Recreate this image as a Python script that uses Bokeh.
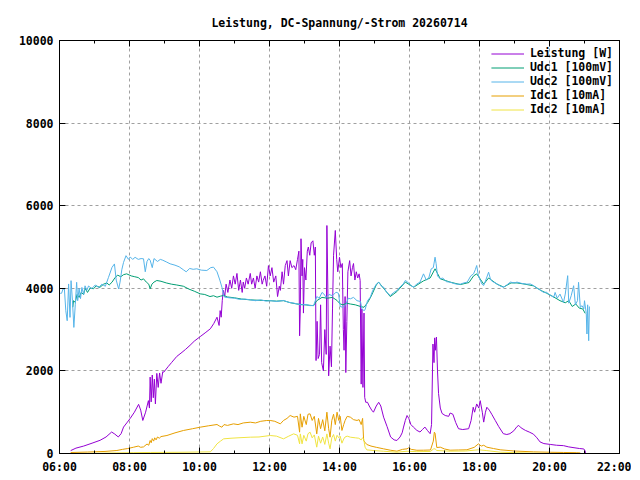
from bokeh.plotting import figure
from bokeh.models import Range1d, FixedTicker, LinearAxis, Legend, LegendItem
from bokeh.embed import file_html
from bokeh.resources import INLINE

TITLE = "Leistung, DC-Spannung/-Strom 20260714"
X_TICKS = [6, 8, 10, 12, 14, 16, 18, 20, 22]
X_MINOR = [7, 9, 11, 13, 15, 17, 19, 21]
X_TICK_LABELS = ["06:00", "08:00", "10:00", "12:00", "14:00", "16:00", "18:00", "20:00", "22:00"]
Y_TICKS = [0, 2000, 4000, 6000, 8000, 10000]
SERIES_NAMES = ["Leistung [W]", "Udc1 [100mV]", "Udc2 [100mV]", "Idc1 [10mA]", "Idc2 [10mA]"]

# (hour of day, value)
LEISTUNG = [
    (6.32, 70), (6.47, 130), (6.69, 180), (6.93, 250), (7.16, 320), (7.33, 400), (7.49, 520),
    (7.58, 470), (7.68, 400), (7.76, 480), (7.83, 640), (7.94, 760), (8.02, 850), (8.14, 1000),
    (8.26, 1190), (8.32, 1050), (8.38, 800), (8.46, 1000), (8.54, 1280), (8.57, 1100), (8.59, 1850),
    (8.62, 1250), (8.65, 1900), (8.68, 1350), (8.71, 1800), (8.74, 1200), (8.78, 1940), (8.82, 1600),
    (8.86, 1950), (8.90, 1700), (8.95, 1980), (8.98, 1970), (9.10, 2100), (9.20, 2200), (9.35, 2350),
    (9.50, 2450), (9.60, 2520), (9.73, 2620), (9.85, 2720), (10.02, 2830), (10.16, 2920), (10.31, 3020),
    (10.41, 3150), (10.50, 3300), (10.56, 3100), (10.59, 3460), (10.62, 3300), (10.65, 3700),
    (10.68, 3950), (10.72, 3800), (10.76, 4100), (10.81, 3900), (10.87, 4200),
    (10.92, 4000), (10.97, 4300), (11.02, 4100), (11.07, 4360), (11.12, 3950), (11.17, 4200),
    (11.22, 3900), (11.25, 4150), (11.29, 4000), (11.34, 4250), (11.39, 4100), (11.45, 4360),
    (11.49, 4100), (11.54, 4250), (11.59, 4000), (11.64, 4300), (11.69, 4150), (11.74, 4400),
    (11.79, 4100), (11.82, 4190), (11.87, 4300), (11.92, 4050), (11.97, 4550), (12.02, 4300),
    (12.07, 4500), (12.12, 4150), (12.18, 4300), (12.23, 3800), (12.28, 4050), (12.31, 3950),
    (12.36, 4400), (12.40, 4100), (12.45, 4550), (12.50, 4670), (12.54, 4300), (12.59, 4670),
    (12.64, 4500), (12.70, 4550), (12.75, 4450), (12.80, 4700), (12.84, 4900), (12.86, 2850),
    (12.88, 3500), (12.90, 5200), (12.93, 4300), (12.95, 4700), (12.97, 3400), (13.00, 4500),
    (13.04, 4200), (13.08, 4900), (13.11, 5000), (13.15, 4800), (13.19, 5100), (13.24, 5150),
    (13.28, 4800), (13.31, 5000), (13.33, 2250), (13.36, 3200), (13.39, 2300), (13.43, 2400),
    (13.46, 3600), (13.49, 2200), (13.54, 2000), (13.58, 3000), (13.62, 2400), (13.64, 5520),
    (13.67, 3800), (13.69, 1880), (13.73, 2600), (13.77, 2100), (13.80, 3500), (13.83, 4800),
    (13.88, 5400), (13.92, 4700), (13.95, 4400), (14.00, 4750), (14.04, 4500), (14.08, 4600),
    (14.11, 3000), (14.13, 2500), (14.16, 3800), (14.18, 1960), (14.21, 3200), (14.24, 4400),
    (14.29, 4670), (14.33, 4300), (14.37, 4500), (14.40, 4600), (14.44, 4200), (14.48, 4400),
    (14.52, 4250), (14.56, 4350), (14.59, 4190), (14.62, 1680), (14.64, 3500), (14.67, 1600),
    (14.70, 3400), (14.72, 1360), (14.75, 1240), (14.80, 1240), (14.85, 1150), (14.92, 1050),
    (14.97, 1000), (15.05, 1150), (15.12, 1240), (15.18, 1150), (15.26, 880), (15.36, 650),
    (15.46, 400), (15.56, 330), (15.64, 315), (15.73, 400), (15.79, 500), (15.83, 640), (15.88, 800),
    (15.93, 920), (15.98, 850), (16.04, 700), (16.11, 640), (16.21, 560), (16.30, 520), (16.37, 580),
    (16.44, 640), (16.51, 560), (16.59, 480), (16.63, 700), (16.67, 2650), (16.70, 2200), (16.72, 2800),
    (16.74, 2500), (16.77, 2820), (16.80, 2000), (16.83, 1450), (16.88, 1100), (16.93, 970),
    (17.02, 920), (17.12, 900), (17.16, 980), (17.24, 950), (17.32, 750), (17.40, 600), (17.52, 580),
    (17.69, 600), (17.76, 800), (17.82, 1120), (17.86, 1000), (17.92, 1200), (17.98, 1100),
    (18.02, 1280), (18.08, 1000), (18.12, 760), (18.17, 1000), (18.21, 1120), (18.28, 1050),
    (18.35, 950), (18.45, 800), (18.55, 650), (18.68, 480), (18.78, 460), (18.87, 480), (18.98, 550),
    (19.07, 650), (19.12, 680), (19.19, 620), (19.31, 560), (19.42, 520), (19.54, 470), (19.64, 380),
    (19.73, 280), (19.84, 240), (20.02, 220), (20.20, 200), (20.40, 190), (20.55, 160), (20.70, 140),
    (20.86, 120), (20.98, 110), (21.02, 60), (21.03, 0),
]

UDC1 = [
    (6.38, 3542), (6.40, 3700), (6.45, 3660), (6.50, 3850), (6.56, 3780), (6.62, 3900), (6.69, 3850),
    (6.73, 4000), (6.80, 3900), (6.88, 4010), (6.97, 3987), (7.05, 4060), (7.15, 4020), (7.26, 4100),
    (7.35, 4130), (7.42, 4080), (7.50, 4148), (7.58, 4250), (7.66, 4320), (7.75, 4280), (7.83, 4330),
    (7.92, 4350), (8.05, 4300), (8.15, 4280), (8.25, 4260), (8.33, 4200), (8.40, 4229), (8.48, 4150),
    (8.55, 4100), (8.59, 3987), (8.64, 4100), (8.70, 4150), (8.78, 4189), (8.90, 4170), (9.05, 4130),
    (9.20, 4100), (9.35, 4080), (9.54, 4050), (9.70, 3980), (9.85, 3930), (10.02, 3866), (10.15, 3850),
    (10.30, 3800), (10.40, 3820), (10.50, 3785), (10.60, 3810), (10.69, 3826), (10.80, 3790),
    (11.00, 3770), (11.20, 3740), (11.45, 3720), (11.70, 3710), (12.00, 3700), (12.20, 3690),
    (12.40, 3700), (12.60, 3650), (12.78, 3620), (13.00, 3600), (13.26, 3580), (13.35, 3700),
    (13.50, 3780), (13.65, 3760), (13.80, 3780), (13.93, 3705), (14.02, 3620), (14.10, 3600),
    (14.20, 3640), (14.31, 3620), (14.45, 3600), (14.60, 3560), (14.70, 3540), (14.80, 3650),
    (14.90, 3800), (15.05, 4080), (15.12, 4148), (15.26, 4000), (15.45, 3800), (15.64, 3920),
    (15.88, 4150), (16.12, 4027), (16.40, 4180), (16.59, 4250), (16.73, 4472), (16.88, 4230),
    (17.16, 4150), (17.45, 4090), (17.70, 4140), (17.83, 4300), (17.92, 4350), (18.12, 4100),
    (18.26, 4250), (18.50, 4100), (18.69, 4030), (18.90, 4130), (19.07, 4130), (19.30, 4100),
    (19.54, 4060), (19.75, 3950), (19.92, 3880), (20.10, 3800), (20.30, 3700), (20.45, 3650),
    (20.55, 3700), (20.65, 3560), (20.75, 3620), (20.85, 3520), (20.95, 3500), (21.02, 3393),
]

UDC2 = [
    (6.02, 3877), (6.06, 3880), (6.10, 3983), (6.14, 3983), (6.18, 3458), (6.22, 3215), (6.26, 4105),
    (6.30, 3296), (6.33, 4185), (6.37, 3700), (6.41, 3053), (6.45, 3600), (6.49, 4145), (6.52, 3700),
    (6.56, 4000), (6.60, 3750), (6.64, 4020), (6.69, 3850), (6.73, 4060), (6.78, 3950), (6.83, 4056),
    (6.92, 3990), (7.02, 4080), (7.12, 4020), (7.21, 4100), (7.31, 4050), (7.40, 4265), (7.50, 4507),
    (7.57, 4590), (7.62, 4200), (7.69, 3983), (7.73, 4150), (7.78, 4450), (7.83, 4628), (7.90, 4790),
    (7.97, 4700), (8.02, 4760), (8.09, 4700), (8.16, 4750), (8.25, 4700), (8.33, 4720), (8.40, 4714),
    (8.45, 4400), (8.50, 4650), (8.55, 4720), (8.59, 4680), (8.65, 4500), (8.70, 4720), (8.80, 4650),
    (8.88, 4700), (8.95, 4680), (9.05, 4640), (9.16, 4593), (9.30, 4560), (9.42, 4520), (9.54, 4448),
    (9.62, 4400), (9.72, 4480), (9.82, 4460), (9.92, 4472), (10.05, 4440), (10.21, 4431),
    (10.32, 4500), (10.40, 4512), (10.50, 4400), (10.58, 4200), (10.64, 4027), (10.70, 3800),
    (10.73, 3785), (10.85, 3770), (11.00, 3760), (11.15, 3730), (11.30, 3740), (11.45, 3720),
    (11.60, 3700), (11.75, 3720), (11.90, 3690), (12.05, 3700), (12.20, 3680), (12.40, 3705),
    (12.55, 3660), (12.70, 3640), (12.78, 3624), (12.90, 3600), (13.05, 3610), (13.15, 3580),
    (13.26, 3583), (13.35, 3800), (13.42, 3760), (13.50, 3900), (13.55, 3866), (13.62, 3780),
    (13.70, 3850), (13.80, 3820), (13.90, 3906), (13.97, 3880), (14.02, 3560), (14.10, 3540),
    (14.18, 3600), (14.25, 3760), (14.31, 3745), (14.40, 3780), (14.50, 3700), (14.60, 3680),
    (14.64, 3500), (14.70, 3460), (14.73, 3480), (14.80, 3700), (14.88, 3785), (14.95, 3950),
    (15.05, 4100), (15.12, 4148), (15.20, 4050), (15.26, 4027), (15.35, 3900), (15.45, 3826),
    (15.55, 3900), (15.64, 3946), (15.75, 4050), (15.82, 4100), (15.88, 4189), (15.95, 4150),
    (16.05, 4060), (16.12, 4027), (16.20, 4100), (16.30, 4150), (16.40, 4350), (16.48, 4200),
    (16.55, 4250), (16.62, 4470), (16.68, 4500), (16.73, 4753), (16.76, 4600), (16.80, 4300),
    (16.88, 4230), (16.95, 4250), (17.05, 4160), (17.16, 4150), (17.25, 4120), (17.35, 4100),
    (17.45, 4100), (17.55, 4130), (17.65, 4150), (17.75, 4300), (17.83, 4350), (17.88, 4450),
    (17.92, 4552), (17.97, 4300), (18.02, 4200), (18.07, 4100), (18.12, 4068), (18.18, 4200),
    (18.26, 4390), (18.32, 4200), (18.40, 4150), (18.50, 4108), (18.60, 4050), (18.69, 4027),
    (18.78, 4080), (18.88, 4150), (19.00, 4130), (19.07, 4150), (19.20, 4120), (19.35, 4100),
    (19.45, 4105), (19.54, 4068), (19.65, 4000), (19.75, 3950), (19.83, 3900), (19.92, 3906),
    (19.97, 3860), (20.05, 3820), (20.12, 3780), (20.16, 3900), (20.22, 3760), (20.30, 3860),
    (20.36, 3740), (20.40, 3660), (20.45, 3860), (20.52, 4306), (20.55, 3640), (20.62, 3820),
    (20.69, 4063), (20.74, 3600), (20.80, 3700), (20.83, 4145), (20.88, 3538), (20.93, 3580),
    (20.98, 3500), (21.00, 3700), (21.05, 3393), (21.07, 2893), (21.09, 3600), (21.12, 2731),
    (21.14, 3560),
]

IDC1 = [
    (6.32, 24), (6.80, 35), (7.30, 50), (7.64, 73), (7.80, 100), (7.95, 120), (8.12, 153), (8.25, 180),
    (8.32, 150), (8.40, 160), (8.50, 230), (8.55, 200), (8.59, 315), (8.62, 260), (8.65, 360),
    (8.69, 300), (8.72, 380), (8.76, 330), (8.80, 400), (8.85, 370), (8.90, 410), (9.07, 436),
    (9.30, 500), (9.54, 557), (9.80, 600), (10.02, 637), (10.25, 670), (10.50, 702), (10.58, 660),
    (10.64, 637), (10.70, 700), (10.80, 680), (10.97, 718), (11.10, 700), (11.25, 740), (11.45, 758),
    (11.60, 740), (11.75, 780), (11.92, 799), (12.02, 800), (12.15, 780), (12.31, 718), (12.40, 800),
    (12.50, 850), (12.59, 920), (12.70, 880), (12.80, 900), (12.86, 516), (12.88, 960), (12.93, 637),
    (12.98, 900), (13.05, 700), (13.10, 950), (13.16, 960), (13.22, 800), (13.28, 900), (13.35, 476),
    (13.40, 850), (13.46, 600), (13.52, 820), (13.58, 550), (13.64, 1000), (13.69, 600), (13.73, 395),
    (13.78, 800), (13.83, 950), (13.88, 700), (13.93, 1000), (13.98, 800), (14.02, 900), (14.07, 557),
    (14.12, 700), (14.16, 800), (14.22, 900), (14.31, 880), (14.40, 820), (14.50, 800), (14.56, 820),
    (14.62, 700), (14.66, 850), (14.69, 315), (14.73, 270), (14.78, 218), (14.90, 180), (15.05, 150),
    (15.26, 113), (15.45, 80), (15.64, 56), (15.80, 100), (15.93, 113), (15.97, 137), (16.05, 100),
    (16.21, 78), (16.40, 80), (16.60, 85), (16.68, 300), (16.71, 516), (16.73, 492), (16.78, 145),
    (16.88, 153), (17.00, 110), (17.16, 80), (17.40, 85), (17.64, 90), (17.85, 150), (17.97, 234),
    (18.05, 180), (18.12, 200), (18.21, 153), (18.40, 120), (18.59, 90), (19.00, 60), (19.54, 40),
    (20.02, 30), (20.40, 25), (20.78, 20), (20.88, 15),
]

IDC2 = [
    (6.32, 0), (7.00, 5), (7.64, 15), (8.12, 20), (8.60, 25), (9.50, 30), (10.31, 40), (10.40, 120),
    (10.50, 234), (10.60, 300), (10.69, 355), (10.90, 370), (11.10, 380), (11.45, 395), (11.70, 400),
    (12.02, 436), (12.20, 420), (12.40, 355), (12.55, 420), (12.69, 476), (12.80, 440), (12.86, 234),
    (12.88, 475), (12.93, 234), (12.98, 440), (13.05, 300), (13.10, 480), (13.16, 516), (13.22, 380),
    (13.28, 450), (13.35, 153), (13.40, 420), (13.46, 250), (13.52, 400), (13.58, 220), (13.64, 475),
    (13.69, 250), (13.73, 113), (13.78, 380), (13.83, 460), (13.88, 300), (13.93, 440), (13.98, 380),
    (14.02, 420), (14.07, 250), (14.12, 350), (14.16, 400), (14.22, 420), (14.31, 395), (14.45, 380),
    (14.55, 370), (14.62, 330), (14.66, 380), (14.69, 355), (14.73, 153), (14.78, 88), (15.00, 70),
    (15.26, 55), (15.64, 32), (15.93, 55), (16.21, 45), (16.60, 50), (16.69, 113), (16.73, 113),
    (16.78, 72), (17.16, 56), (17.60, 60), (17.97, 90), (18.21, 70), (18.59, 32), (19.00, 20),
    (19.54, 8), (20.02, 0),
]

COLORS = ["#9400d3", "#009e73", "#56b4e9", "#e69f00", "#f0e442"]
FONT = "DejaVu Sans Mono"

p = figure(
    frame_width=560, frame_height=413,
    x_range=Range1d(6, 22), y_range=Range1d(0, 10000),
    output_backend="svg", toolbar_location=None,
    min_border_left=59, min_border_right=12, min_border_top=40, min_border_bottom=20,
    background_fill_color="white", border_fill_color="white",
    title=TITLE,
)
p.title.align = "center"
p.title.text_font = FONT
p.title.text_font_size = "11.5px"
p.title.text_font_style = "bold"
p.title.text_color = "black"
p.title.standoff = 22

xt = FixedTicker(ticks=X_TICKS, minor_ticks=X_MINOR)
yt = FixedTicker(ticks=Y_TICKS, minor_ticks=[])

bottom_ax = p.below[0]
left_ax = p.left[0]
bottom_ax.ticker = xt
bottom_ax.major_label_overrides = {t: l for t, l in zip(X_TICKS, X_TICK_LABELS)}
left_ax.ticker = yt

top_ax = LinearAxis(ticker=xt)
right_ax = LinearAxis(ticker=yt)
p.add_layout(top_ax, "above")
p.add_layout(right_ax, "right")

for ax in [bottom_ax, left_ax, top_ax, right_ax]:
    ax.major_tick_in = 6
    ax.major_tick_out = 0
    ax.minor_tick_in = 3
    ax.minor_tick_out = 0
    ax.axis_line_color = "black"
    ax.major_tick_line_color = "black"
    ax.minor_tick_line_color = "black"
    ax.major_label_text_font = FONT
    ax.major_label_text_font_size = "11.5px"
    ax.major_label_text_font_style = "bold"
    ax.major_label_text_color = "black"
    ax.major_label_standoff = 6
for ax in [top_ax, right_ax]:
    ax.major_label_text_color = None
    ax.major_label_standoff = 0

p.outline_line_color = "black"
p.xgrid.ticker = xt
p.ygrid.ticker = yt
for g in [p.xgrid[0], p.ygrid[0]]:
    g.grid_line_color = "#a0a0a0"
    g.grid_line_dash = "3 3"
    g.grid_line_width = 1

items = []
for name, data, color in zip(SERIES_NAMES, [LEISTUNG, UDC1, UDC2, IDC1, IDC2], COLORS):
    t = [d[0] for d in data]
    v = [d[1] for d in data]
    r = p.line(t, v, line_color=color, line_width=1)
    items.append(LegendItem(label=name, renderers=[r]))

legend = Legend(items=items, location="top_right")
legend.border_line_color = None
legend.background_fill_alpha = 0
legend.label_text_font = FONT
legend.label_text_font_size = "11.5px"
legend.label_text_font_style = "bold"
legend.label_text_color = "black"
legend.glyph_width = 33
legend.glyph_height = 13
legend.label_height = 13
legend.spacing = 0
legend.padding = 4
legend.margin = 6
legend.label_standoff = 6
p.add_layout(legend)

open("out.html", "w").write(file_html(p, INLINE))
